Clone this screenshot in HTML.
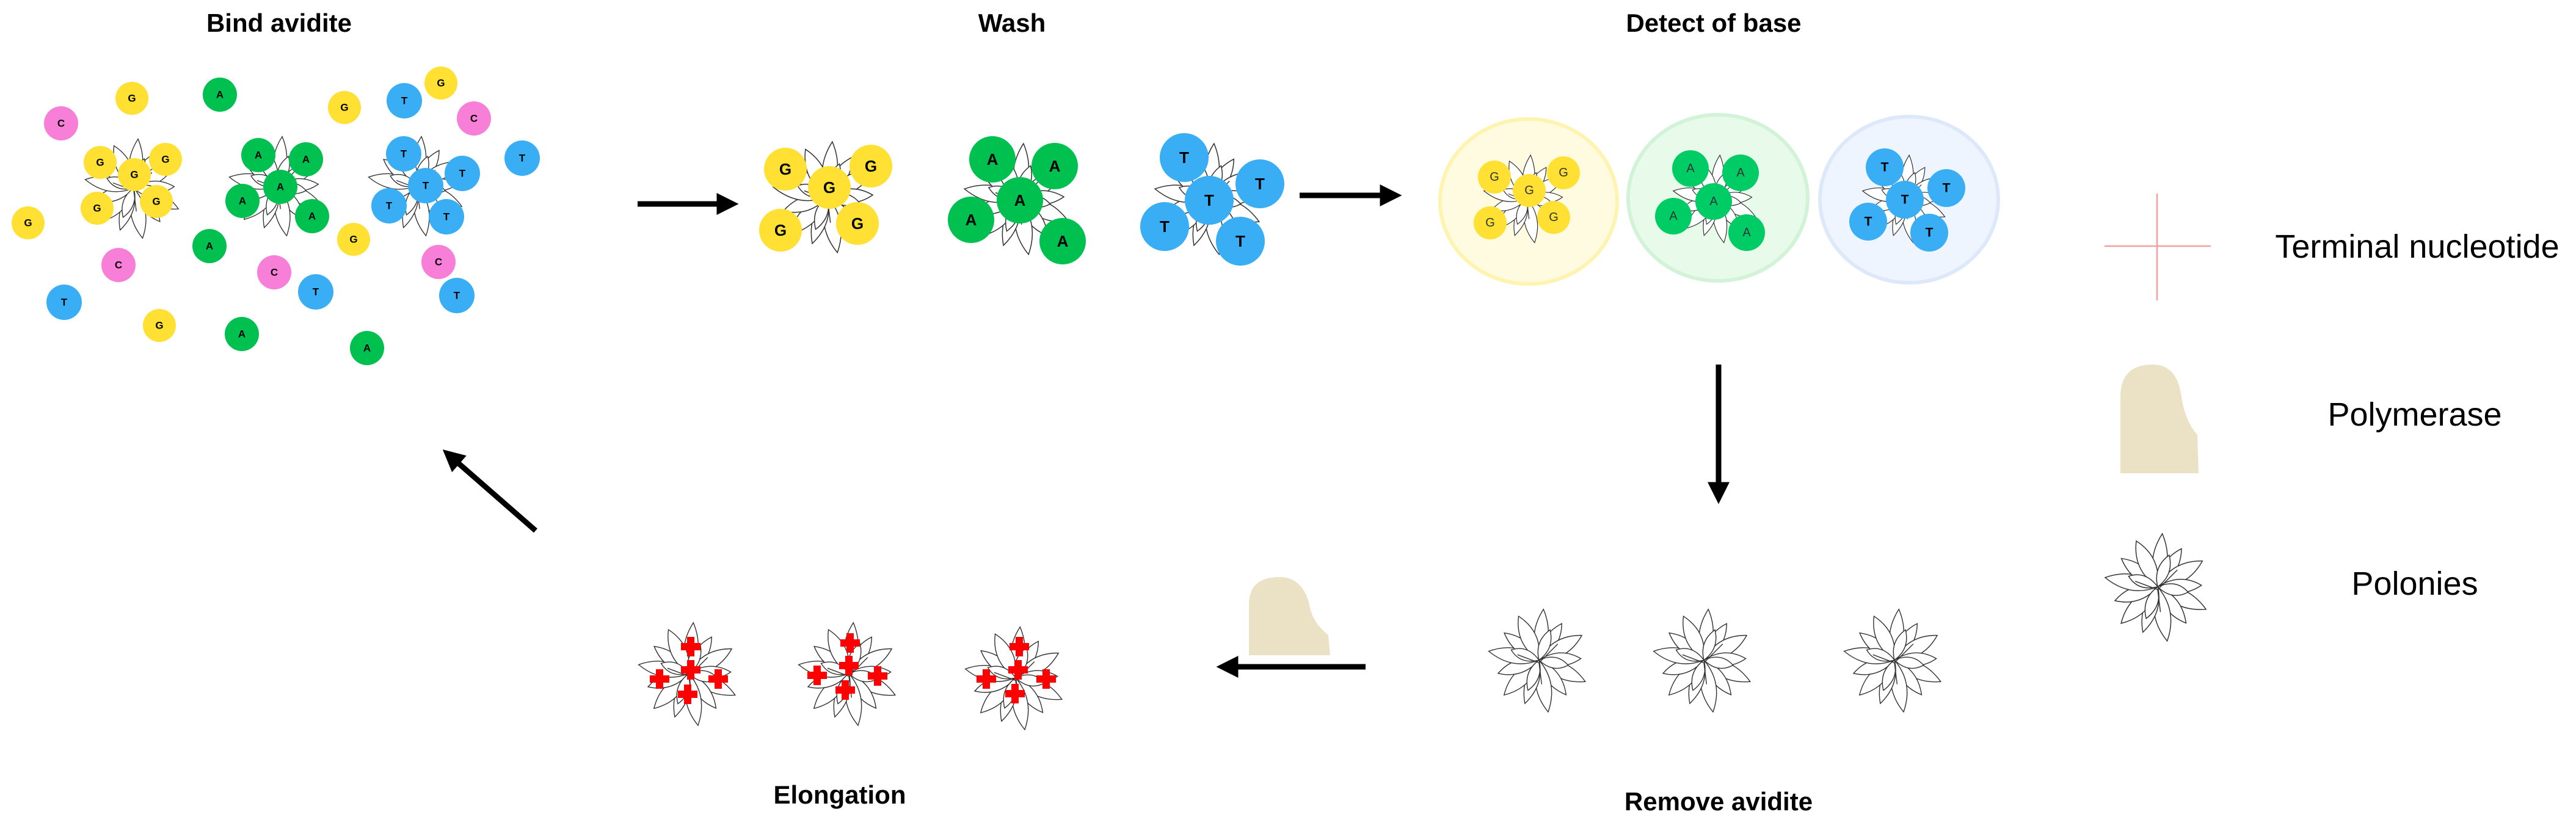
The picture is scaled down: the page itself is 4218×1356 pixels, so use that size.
<!DOCTYPE html>
<html><head><meta charset="utf-8"><style>
html,body{margin:0;padding:0;background:#fff;}
svg{display:block;}
text{font-family:"Liberation Sans",sans-serif;}
.t{font-weight:bold;font-size:42px;text-anchor:middle;}
.l{font-size:54px;text-anchor:middle;}
.b{font-size:17px;font-weight:bold;text-anchor:middle;dominant-baseline:central;}
.bb{font-size:26px;font-weight:bold;text-anchor:middle;dominant-baseline:central;}
</style></head><body>
<svg width="4218" height="1356" viewBox="0 0 4218 1356" xmlns="http://www.w3.org/2000/svg">
<defs>
<g id="pol">
<g fill="#fff" stroke="#333" stroke-width="1.6">
<path d="M0,0 Q26,-45 0,-95 Q-26,-45 0,0" transform="rotate(5)"/>
<path d="M0,0 Q24,-40 0,-80 Q-24,-40 0,0" transform="rotate(32)"/>
<path d="M0,0 Q28,-45 0,-92 Q-28,-45 0,0" transform="rotate(60)"/>
<path d="M0,0 Q24,-40 0,-78 Q-24,-40 0,0" transform="rotate(88)"/>
<path d="M0,0 Q28,-45 0,-95 Q-28,-45 0,0" transform="rotate(115)"/>
<path d="M0,0 Q24,-40 0,-82 Q-24,-40 0,0" transform="rotate(142)"/>
<path d="M0,0 Q28,-48 0,-98 Q-28,-48 0,0" transform="rotate(170)"/>
<path d="M0,0 Q24,-40 0,-85 Q-24,-40 0,0" transform="rotate(198)"/>
<path d="M0,0 Q28,-45 0,-92 Q-28,-45 0,0" transform="rotate(225)"/>
<path d="M0,0 Q24,-40 0,-80 Q-24,-40 0,0" transform="rotate(252)"/>
<path d="M0,0 Q28,-45 0,-95 Q-28,-45 0,0" transform="rotate(280)"/>
<path d="M0,0 Q24,-40 0,-82 Q-24,-40 0,0" transform="rotate(308)"/>
<path d="M0,0 Q28,-45 0,-90 Q-28,-45 0,0" transform="rotate(335)"/>
<path d="M0,0 Q20,-30 0,-60 Q-20,-30 0,0" transform="rotate(20)"/>
<path d="M0,0 Q20,-30 0,-60 Q-20,-30 0,0" transform="rotate(200)"/>
<path d="M0,0 Q20,-30 0,-55 Q-20,-30 0,0" transform="rotate(100)"/>
<path d="M0,0 Q20,-30 0,-55 Q-20,-30 0,0" transform="rotate(290)"/>
</g>
<path d="M-40,-10 L0,5 L35,-30 M0,5 L5,45" stroke="#333" stroke-width="1.6" fill="none"/>
</g>
<g id="cr"><rect x="-6" y="-16" width="12" height="32" fill="#f00"/><rect x="-16" y="-6" width="32" height="12" fill="#f00"/></g>
<marker id="ah" markerWidth="4" markerHeight="4" refX="2.5" refY="2" orient="auto" markerUnits="strokeWidth"><path d="M0,0 L4,2 L0,4 Z" fill="#000"/></marker>
</defs>

<text class="t" x="457" y="52">Bind avidite</text>
<text class="t" x="1657" y="52">Wash</text>
<text class="t" x="2806" y="52">Detect of base</text>
<text class="t" x="1375" y="1316">Elongation</text>
<text class="t" x="2814" y="1327">Remove avidite</text>

<use href="#pol" transform="translate(219,308) scale(0.85)"/>
<use href="#pol" transform="translate(455,304) scale(0.85)"/>
<use href="#pol" transform="translate(683,304) scale(0.85)"/>

<g>
<g fill="#ffe033"><circle cx="216" cy="161" r="27"/><circle cx="564" cy="176" r="27"/><circle cx="722" cy="136" r="27"/><circle cx="46" cy="365" r="27"/><circle cx="579" cy="392" r="27"/><circle cx="261" cy="533" r="27"/>
<circle cx="164" cy="266" r="27"/><circle cx="271" cy="261" r="27"/><circle cx="220" cy="286" r="27"/><circle cx="159" cy="341" r="27"/><circle cx="256" cy="330" r="27"/></g>
<g fill="#00c050"><circle cx="360" cy="155" r="28"/><circle cx="343" cy="403" r="28"/><circle cx="396" cy="547" r="28"/><circle cx="601" cy="570" r="28"/>
<circle cx="423" cy="254" r="28"/><circle cx="501" cy="261" r="28"/><circle cx="459" cy="306" r="28"/><circle cx="397" cy="329" r="28"/><circle cx="511" cy="354" r="28"/></g>
<g fill="#3aaef5"><circle cx="662" cy="165" r="29"/><circle cx="855" cy="259" r="29"/><circle cx="517" cy="478" r="29"/><circle cx="748" cy="484" r="29"/><circle cx="105" cy="495" r="29"/>
<circle cx="661" cy="252" r="29"/><circle cx="757" cy="284" r="29"/><circle cx="697" cy="304" r="29"/><circle cx="637" cy="337" r="29"/><circle cx="731" cy="355" r="29"/></g>
<g fill="#f77fd8"><circle cx="100" cy="202" r="28"/><circle cx="776" cy="194" r="28"/><circle cx="194" cy="434" r="28"/><circle cx="449" cy="446" r="28"/><circle cx="718" cy="429" r="28"/></g>
<g>
<text class="b" x="216" y="161">G</text><text class="b" x="564" y="176">G</text><text class="b" x="722" y="136">G</text><text class="b" x="46" y="365">G</text><text class="b" x="579" y="392">G</text><text class="b" x="261" y="533">G</text>
<text class="b" x="164" y="266">G</text><text class="b" x="271" y="261">G</text><text class="b" x="220" y="286">G</text><text class="b" x="159" y="341">G</text><text class="b" x="256" y="330">G</text>
<text class="b" x="360" y="155">A</text><text class="b" x="343" y="403">A</text><text class="b" x="396" y="547">A</text><text class="b" x="601" y="570">A</text>
<text class="b" x="423" y="254">A</text><text class="b" x="501" y="261">A</text><text class="b" x="459" y="306">A</text><text class="b" x="397" y="329">A</text><text class="b" x="511" y="354">A</text>
<text class="b" x="662" y="165">T</text><text class="b" x="855" y="259">T</text><text class="b" x="517" y="478">T</text><text class="b" x="748" y="484">T</text><text class="b" x="105" y="495">T</text>
<text class="b" x="661" y="252">T</text><text class="b" x="757" y="284">T</text><text class="b" x="697" y="304">T</text><text class="b" x="637" y="337">T</text><text class="b" x="731" y="355">T</text>
<text class="b" x="100" y="202">C</text><text class="b" x="776" y="194">C</text><text class="b" x="194" y="434">C</text><text class="b" x="449" y="446">C</text><text class="b" x="718" y="429">C</text>
</g>
</g>

<use href="#pol" transform="translate(1355,322) scale(0.95)"/>
<use href="#pol" transform="translate(1668,325) scale(0.95)"/>
<use href="#pol" transform="translate(1980,325) scale(0.95)"/>
<g fill="#ffe033"><circle cx="1286" cy="277" r="35"/><circle cx="1426" cy="272" r="35"/><circle cx="1358" cy="307" r="35"/><circle cx="1278" cy="377" r="35"/><circle cx="1404" cy="366" r="35"/></g>
<g fill="#00c050"><circle cx="1625" cy="261" r="38"/><circle cx="1727" cy="272" r="38"/><circle cx="1670" cy="328" r="38"/><circle cx="1590" cy="360" r="38"/><circle cx="1740" cy="395" r="38"/></g>
<g fill="#3aaef5"><circle cx="1939" cy="258" r="40"/><circle cx="2063" cy="301" r="40"/><circle cx="1980" cy="328" r="40"/><circle cx="1907" cy="371" r="40"/><circle cx="2031" cy="395" r="40"/></g>
<text class="bb" x="1286" y="277">G</text><text class="bb" x="1426" y="272">G</text><text class="bb" x="1358" y="307">G</text><text class="bb" x="1278" y="377">G</text><text class="bb" x="1404" y="366">G</text>
<text class="bb" x="1625" y="261">A</text><text class="bb" x="1727" y="272">A</text><text class="bb" x="1670" y="328">A</text><text class="bb" x="1590" y="360">A</text><text class="bb" x="1740" y="395">A</text>
<text class="bb" x="1939" y="258">T</text><text class="bb" x="2063" y="301">T</text><text class="bb" x="1980" y="328">T</text><text class="bb" x="1907" y="371">T</text><text class="bb" x="2031" y="395">T</text>

<ellipse cx="2503" cy="330" rx="145" ry="135" fill="#fffbe0" stroke="#fff3b0" stroke-width="6"/>
<ellipse cx="2813" cy="324" rx="147" ry="136" fill="#e8faea" stroke="#d2f3d8" stroke-width="6"/>
<ellipse cx="3126" cy="327" rx="146" ry="136" fill="#eef5ff" stroke="#dde9fb" stroke-width="6"/>
<use href="#pol" transform="translate(2500,325) scale(0.75)"/>
<use href="#pol" transform="translate(2810,325) scale(0.75)"/>
<use href="#pol" transform="translate(3120,325) scale(0.75)"/>
<g fill="#ffe033"><circle cx="2447" cy="290" r="27"/><circle cx="2560" cy="283" r="27"/><circle cx="2504" cy="312" r="27"/><circle cx="2440" cy="365" r="27"/><circle cx="2544" cy="356" r="27"/></g>
<g fill="#00cc66"><circle cx="2768" cy="276" r="30"/><circle cx="2850" cy="283" r="30"/><circle cx="2806" cy="330" r="30"/><circle cx="2740" cy="354" r="30"/><circle cx="2860" cy="381" r="30"/></g>
<g fill="#3aaef5"><circle cx="3086" cy="274" r="31"/><circle cx="3187" cy="308" r="31"/><circle cx="3119" cy="327" r="31"/><circle cx="3059" cy="363" r="31"/><circle cx="3159" cy="381" r="31"/></g>
<g>
<text class="b" x="2447" y="290" style="font-weight:normal;font-size:20px;fill:#333">G</text><text class="b" x="2560" y="283" style="font-weight:normal;font-size:20px;fill:#333">G</text><text class="b" x="2504" y="312" style="font-weight:normal;font-size:20px;fill:#333">G</text><text class="b" x="2440" y="365" style="font-weight:normal;font-size:20px;fill:#333">G</text><text class="b" x="2544" y="356" style="font-weight:normal;font-size:20px;fill:#333">G</text>
<text class="b" x="2768" y="276" style="font-weight:normal;font-size:20px;fill:#333">A</text><text class="b" x="2850" y="283" style="font-weight:normal;font-size:20px;fill:#333">A</text><text class="b" x="2806" y="330" style="font-weight:normal;font-size:20px;fill:#333">A</text><text class="b" x="2740" y="354" style="font-weight:normal;font-size:20px;fill:#333">A</text><text class="b" x="2860" y="381" style="font-weight:normal;font-size:20px;fill:#333">A</text>
</g>
<text class="b" x="3086" y="274" style="font-size:21px">T</text><text class="b" x="3187" y="308" style="font-size:21px">T</text><text class="b" x="3119" y="327" style="font-size:21px">T</text><text class="b" x="3059" y="363" style="font-size:21px">T</text><text class="b" x="3159" y="381" style="font-size:21px">T</text>

<g stroke="#000" stroke-width="9" fill="none" marker-end="url(#ah)">
<line x1="1044" y1="334" x2="1196" y2="334"/>
<line x1="2128" y1="320" x2="2282" y2="320"/>
<line x1="2814" y1="597" x2="2814" y2="812"/>
<line x1="2236" y1="1092" x2="2005" y2="1092"/>
<line x1="877" y1="869" x2="735" y2="745"/>
</g>

<use href="#pol" transform="translate(2520,1081) scale(0.88)"/>
<use href="#pol" transform="translate(2790,1081) scale(0.88)"/>
<use href="#pol" transform="translate(3102,1081) scale(0.88)"/>

<path d="M2045,1073 L2045,990 Q2045,945 2095,945 Q2135,945 2145,995 Q2150,1020 2175,1040 L2178,1073 Z" fill="#ebe2c6"/>

<use href="#pol" transform="translate(1128,1103) scale(0.88)"/>
<use href="#pol" transform="translate(1390,1103) scale(0.88)"/>
<use href="#pol" transform="translate(1663,1110) scale(0.88)"/>
<use href="#cr" x="1131" y="1059"/><use href="#cr" x="1131" y="1097"/><use href="#cr" x="1080" y="1112"/><use href="#cr" x="1176" y="1112"/><use href="#cr" x="1126" y="1137"/>
<use href="#cr" x="1392" y="1053"/><use href="#cr" x="1390" y="1090"/><use href="#cr" x="1338" y="1106"/><use href="#cr" x="1437" y="1107"/><use href="#cr" x="1384" y="1130"/>
<use href="#cr" x="1669" y="1059"/><use href="#cr" x="1667" y="1097"/><use href="#cr" x="1615" y="1112"/><use href="#cr" x="1713" y="1112"/><use href="#cr" x="1662" y="1136"/>

<line x1="3446" y1="403" x2="3620" y2="403" stroke="#f4a0a0" stroke-width="2.5"/>
<line x1="3532" y1="317" x2="3532" y2="492" stroke="#f4a0a0" stroke-width="2.5"/>
<text class="l" x="3958" y="422">Terminal nucleotide</text>
<path d="M3472,775 L3472,650 Q3472,597 3525,597 Q3565,597 3572,650 Q3578,690 3598,712 L3600,775 Z" fill="#ebe2c6"/>
<text class="l" x="3954" y="697">Polymerase</text>
<use href="#pol" transform="translate(3533,961) scale(0.92)"/>
<text class="l" x="3954" y="974">Polonies</text>
</svg>
</body></html>
